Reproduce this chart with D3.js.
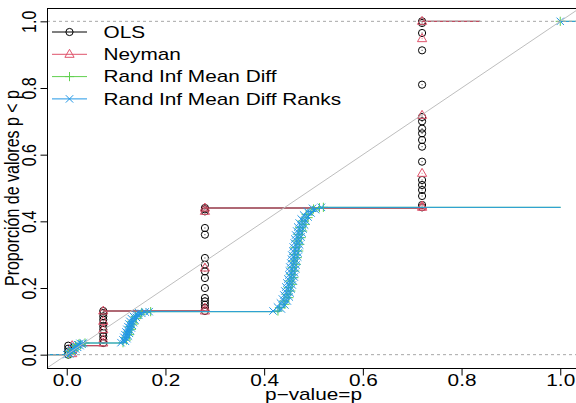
<!DOCTYPE html>
<html>
<head>
<meta charset="utf-8">
<script src="https://cdn.jsdelivr.net/npm/d3@7"></script>
<style>
  body { margin: 0; background: #fff; }
  svg { display: block; font-family: "Liberation Sans", Arial, Helvetica, sans-serif; }
</style>
</head>
<body>
<div id="chart"></div>
<script>
// series names and R 4 palette colours
const methods = ["OLS", "Neyman", "Rand Inf Mean Diff", "Rand Inf Mean Diff Ranks"];
const colors = ["#000000", "#DF536B", "#61D04F", "#2297E6"];
const symbols = ["circle", "triangle", "plus", "cross"];

// sorted p-values (x) and the proportion below them (y)
const olsP = [0.003, 0.003, 0.003, 0.003,
  0.074, 0.074, 0.074, 0.074, 0.074, 0.074, 0.074, 0.074, 0.074, 0.074, 0.074,
  0.28, 0.28, 0.28, 0.28, 0.28, 0.28, 0.28, 0.28, 0.28, 0.28, 0.28, 0.28, 0.28, 0.28, 0.28,
  0.72, 0.72, 0.72, 0.72, 0.72, 0.72, 0.72, 0.72, 0.72, 0.72, 0.72, 0.72, 0.72, 0.72, 0.72, 0.72, 0.72, 0.72];
const olsF = [0, 0.009, 0.018, 0.027,
  0.035, 0.045, 0.055, 0.065, 0.075, 0.085, 0.095, 0.105, 0.115, 0.125, 0.131,
  0.131, 0.14, 0.15, 0.16, 0.17, 0.20, 0.23, 0.25, 0.27, 0.29, 0.36, 0.38, 0.43, 0.436, 0.44,
  0.442, 0.449, 0.476, 0.494, 0.509, 0.524, 0.579, 0.624, 0.644, 0.664, 0.678, 0.70, 0.713, 0.81, 0.913, 0.965, 0.995, 1.0];

const neyP = [0.011, 0.011, 0.011,
  0.074, 0.074, 0.074, 0.074, 0.074,
  0.28, 0.28, 0.28, 0.28, 0.28,
  0.72, 0.72, 0.72, 0.72, 0.72, 0.72];
const neyF = [0.003, 0.014, 0.027,
  0.035, 0.045, 0.075, 0.10, 0.131,
  0.131, 0.14, 0.26, 0.43, 0.44,
  0.442, 0.446, 0.544, 0.718, 0.948, 1.0];

const diffP = [0.002, 0.009, 0.006, 0.015, 0.012, 0.021, 0.018, 0.028, 0.025, 0.037,
  0.114, 0.121, 0.120, 0.127, 0.124, 0.131, 0.128, 0.136, 0.132, 0.141, 0.139, 0.150, 0.152, 0.170,
  0.428, 0.431, 0.442, 0.440, 0.450, 0.446, 0.454, 0.449, 0.457, 0.452, 0.460, 0.455, 0.462, 0.457,
  0.465, 0.459, 0.467, 0.461, 0.470, 0.463, 0.472, 0.466, 0.475, 0.469, 0.478, 0.472, 0.483, 0.477,
  0.489, 0.485, 0.497, 0.500, 0.512, 0.520,
  1.0];
const diffF = [0.001, 0.004, 0.009, 0.013, 0.018, 0.022, 0.027, 0.030, 0.033, 0.035,
  0.036, 0.044, 0.052, 0.060, 0.068, 0.076, 0.084, 0.092, 0.100, 0.108, 0.115, 0.121, 0.126, 0.129,
  0.131, 0.141, 0.151, 0.161, 0.171, 0.181, 0.191, 0.201, 0.211, 0.221, 0.231, 0.241, 0.251, 0.261,
  0.271, 0.281, 0.291, 0.301, 0.311, 0.321, 0.331, 0.341, 0.351, 0.361, 0.371, 0.381, 0.391, 0.401,
  0.411, 0.421, 0.430, 0.437, 0.441, 0.442,
  1.0];

const rankP = [0.000, 0.006, 0.003, 0.010, 0.007, 0.014, 0.010, 0.018, 0.014, 0.022, 0.018, 0.027, 0.022, 0.031, 0.027, 0.034,
  0.110, 0.119, 0.114, 0.122, 0.116, 0.125, 0.118, 0.127, 0.120, 0.129, 0.122, 0.131, 0.124, 0.133,
  0.126, 0.135, 0.128, 0.138, 0.131, 0.141, 0.135, 0.146, 0.140, 0.152, 0.146, 0.159, 0.167,
  0.418, 0.435, 0.427, 0.442, 0.433, 0.447, 0.437, 0.451, 0.440, 0.453, 0.442, 0.455, 0.444, 0.457,
  0.446, 0.459, 0.448, 0.461, 0.450, 0.462, 0.451, 0.464, 0.452, 0.465, 0.454, 0.466, 0.455, 0.468,
  0.456, 0.469, 0.458, 0.470, 0.459, 0.472, 0.461, 0.473, 0.462, 0.475, 0.464, 0.477, 0.466, 0.479,
  0.468, 0.482, 0.471, 0.485, 0.475, 0.489, 0.480, 0.495, 0.487, 0.504, 0.498, 0.516,
  1.0];
const rankF = [0.000, 0.002, 0.005, 0.007, 0.010, 0.012, 0.015, 0.017, 0.020, 0.022, 0.025, 0.027, 0.030, 0.032, 0.034, 0.035,
  0.036, 0.040, 0.044, 0.048, 0.052, 0.056, 0.060, 0.064, 0.068, 0.072, 0.076, 0.080, 0.084, 0.088,
  0.092, 0.096, 0.100, 0.104, 0.108, 0.112, 0.115, 0.118, 0.121, 0.124, 0.126, 0.128, 0.129,
  0.131, 0.137, 0.143, 0.149, 0.155, 0.161, 0.167, 0.173, 0.179, 0.185, 0.191, 0.197, 0.203, 0.209,
  0.215, 0.221, 0.227, 0.233, 0.239, 0.245, 0.251, 0.257, 0.263, 0.269, 0.275, 0.281, 0.287, 0.293,
  0.299, 0.305, 0.311, 0.317, 0.323, 0.329, 0.335, 0.341, 0.347, 0.353, 0.359, 0.365, 0.371, 0.377,
  0.383, 0.389, 0.395, 0.401, 0.407, 0.413, 0.419, 0.425, 0.430, 0.435, 0.439, 0.442,
  1.0];

// where each step line starts (left, at 0) and ends (right)
const lineStart = [-0.2, -0.2, -0.2, -0.2];
const lineEnd = [0.837, 0.837, 1.2, 1.2];

const xTicks = [0, 0.2, 0.4, 0.6, 0.8, 1.0];
const yTicks = [0, 0.2, 0.4, 0.6, 0.8, 1.0];
const xTitle = "p\u2212value=p";
const yTitle = "Proporción de valores p < p";

const series = [
  {p: olsP, f: olsF},
  {p: neyP, f: neyF},
  {p: diffP, f: diffF},
  {p: rankP, f: rankF}
].map((s, i) => ({...s, name: methods[i], color: colors[i], symbol: symbols[i], start: lineStart[i], end: lineEnd[i]}));

// chart size and R-like plot region
const width = 576, height = 403;
const marginTop = 8, marginRight = -4, marginBottom = 35, marginLeft = 47;
const stretch = 1.3;   // glyphs in the picture are wider than tall
const fontSize = 16;

const svg = d3.select("#chart").append("svg")
    .attr("width", width)
    .attr("height", height)
    .attr("viewBox", [0, 0, width, height]);

const x = d3.scaleLinear()
    .domain([-0.04, 1.04])
    .range([marginLeft, width - marginRight]);

const y = d3.scaleLinear()
    .domain([-0.04, 1.04])
    .range([height - marginBottom, marginTop]);

svg.append("clipPath").attr("id", "plot-clip")
  .append("rect")
    .attr("x", marginLeft).attr("y", marginTop)
    .attr("width", width - marginRight - marginLeft)
    .attr("height", height - marginBottom - marginTop);

const plot = svg.append("g").attr("clip-path", "url(#plot-clip)");

// marker shapes, close to R pch 1, 2, 3, 4
const shape = {
  circle: "M3.6,0A3.6,3.6 0 1,1 -3.6,0A3.6,3.6 0 1,1 3.6,0Z",
  triangle: "M0,-5L4.6,3L-4.6,3Z",
  plus: "M-4.6,0H4.6M0,-4.6V4.6",
  cross: "M-3.7,-3.7L3.7,3.7M-3.7,3.7L3.7,-3.7"
};

// horizontal-only step segments, like plot.stepfun(verticals = FALSE)
function stepPath(s) {
  let d = `M${x(s.start)},${y(0)}H${x(s.p[0])}`;
  for (let i = 0; i < s.p.length; i++) {
    const next = i < s.p.length - 1 ? s.p[i + 1] : s.end;
    d += `M${x(s.p[i])},${y(s.f[i])}H${x(next)}`;
  }
  return d;
}

for (const s of series) {
  plot.append("path")
      .attr("d", stepPath(s))
      .attr("fill", "none")
      .attr("stroke", s.color)
      .attr("stroke-width", 1)
      .attr("stroke-linecap", "round");

  plot.append("g")
    .selectAll("path")
    .data(s.p)
    .join("path")
      .attr("transform", (d, i) => `translate(${x(d)},${y(s.f[i])})`)
      .attr("d", shape[s.symbol])
      .attr("fill", "none")
      .attr("stroke", s.color)
      .attr("stroke-width", 1);
}

// reference lines: diagonal and dashed 0 / 1
plot.append("line")
    .attr("x1", x(-0.04)).attr("y1", y(-0.04))
    .attr("x2", x(1.04)).attr("y2", y(1.04))
    .attr("stroke", "#BEBEBE");

plot.append("g")
  .selectAll("line")
  .data([0, 1])
  .join("line")
    .attr("x1", marginLeft).attr("x2", width - marginRight)
    .attr("y1", d => y(d)).attr("y2", d => y(d))
    .attr("stroke", "#A8A8A8")
    .attr("stroke-dasharray", "3,3");

// box
svg.append("rect")
    .attr("x", marginLeft + 0.5).attr("y", marginTop + 0.5)
    .attr("width", width - marginRight - marginLeft)
    .attr("height", height - marginBottom - marginTop)
    .attr("fill", "none")
    .attr("stroke", "#000");

// axes
const xAxis = svg.append("g")
    .attr("transform", `translate(0,${height - marginBottom + 0.5})`)
    .call(d3.axisBottom(x).tickValues(xTicks).tickSize(7).tickFormat(d3.format(".1f")));
xAxis.select(".domain").remove();
xAxis.selectAll("text").remove();
xAxis.selectAll(".tick line").attr("stroke", "#000");
xAxis.selectAll(".tick").append("text")
    .attr("transform", `translate(0,17.5) scale(${stretch},1)`)
    .attr("text-anchor", "middle")
    .attr("fill", "#000")
    .style("font-size", fontSize + "px")
    .text(d3.format(".1f"));

const yAxis = svg.append("g")
    .attr("transform", `translate(${marginLeft + 0.5},0)`)
    .call(d3.axisLeft(y).tickValues(yTicks).tickSize(7).tickFormat(d3.format(".1f")));
yAxis.select(".domain").remove();
yAxis.selectAll("text").remove();
yAxis.selectAll(".tick line").attr("stroke", "#000");
yAxis.selectAll(".tick").append("text")
    .attr("transform", `translate(-12,0) scale(${stretch},1) rotate(-90)`)
    .attr("text-anchor", "middle")
    .attr("fill", "#000")
    .style("font-size", fontSize + "px")
    .text(d3.format(".1f"));

// axis titles
svg.append("text")
    .attr("transform", `translate(${(x.range()[0] + x.range()[1]) / 2},${height - 3.5}) scale(${stretch},1)`)
    .attr("text-anchor", "middle")
    .style("font-size", fontSize + "px")
    .text(xTitle);

svg.append("text")
    .attr("transform", `translate(19,${(y.range()[0] + y.range()[1]) / 2}) scale(${stretch},1) rotate(-90)`)
    .attr("text-anchor", "middle")
    .style("font-size", fontSize + "px")
    .text(yTitle);

// legend, no box
const legend = svg.append("g")
  .selectAll("g")
  .data(series)
  .join("g")
    .attr("transform", (d, i) => `translate(0,${32 + i * 22.3})`);

legend.append("line")
    .attr("x1", 52).attr("x2", 87)
    .attr("stroke", d => d.color);

legend.append("path")
    .attr("transform", "translate(69.5,0)")
    .attr("d", d => shape[d.symbol])
    .attr("fill", "none")
    .attr("stroke", d => d.color);

legend.append("text")
    .attr("transform", `translate(103.5,5.8) scale(${stretch},1)`)
    .style("font-size", fontSize + "px")
    .text(d => d.name);
</script>
</body>
</html>
